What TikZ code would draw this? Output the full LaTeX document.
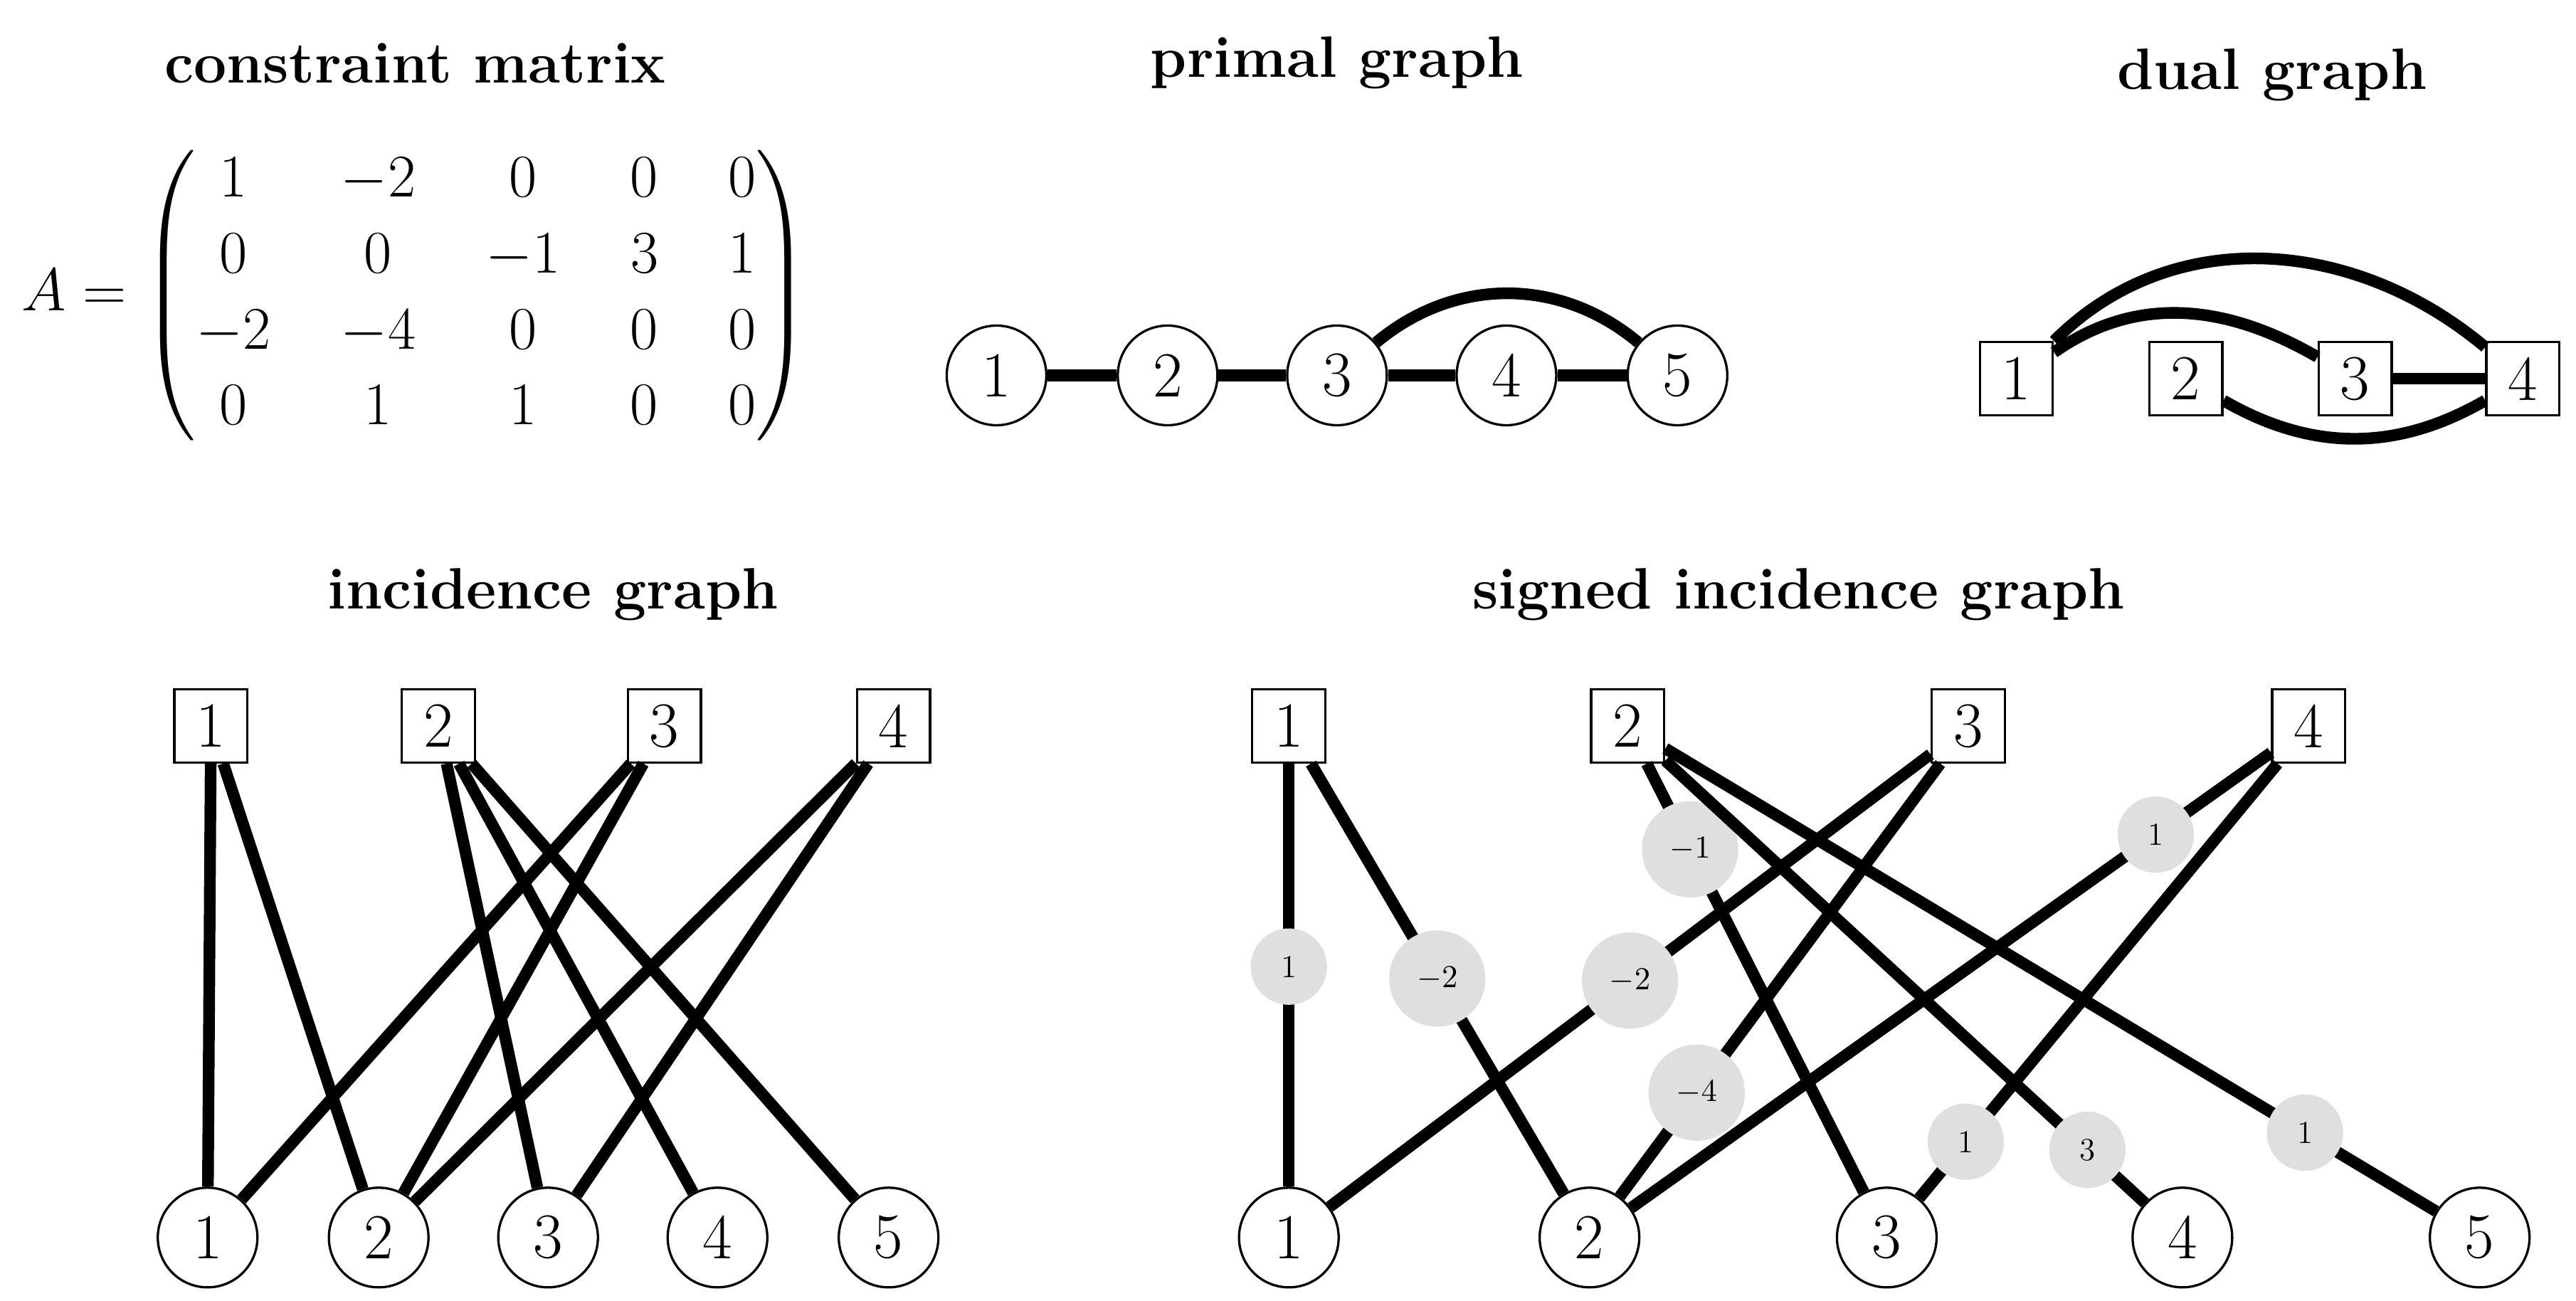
\documentclass[tikz,border=0pt]{standalone}
\usepackage{amsmath}
\usepackage{tikz}
\usetikzlibrary{arrows,positioning}

\begin{document}
\begin{tikzpicture}[x=0.02cm,y=-0.02cm,line width=4pt,
                    every node/.style={font=\fontsize{22}{26}\selectfont},
                    var/.style={circle,draw,line width=0.8pt,fill=white,minimum size=1.2cm,inner sep=0pt},
                    cons/.style={rectangle,draw,line width=0.8pt,fill=white,minimum size=0.88cm,inner sep=0pt},
                    title/.style={font=\fontsize{20}{24}\selectfont\bfseries},
                    wt/.style={circle,fill=gray!25,minimum size=0.92cm,inner sep=0pt,font=\fontsize{11}{13}\selectfont},
                    wtb/.style={wt,minimum size=1.16cm}]

  \useasboundingbox (0,0) rectangle (1551,783);

  % constraint matrix
  \node[title] (tA) at (250,38) {constraint matrix};
  \node (mat) at (250,178) {$A = {\arraycolsep=12pt\begin{pmatrix}
      1 & -2 & 0 & 0 & 0\\
      0 & 0 & -1 & 3 & 1\\
      -2 & -4 & 0 & 0 & 0\\
      0 & 1 & 1 & 0 & 0
    \end{pmatrix}}$};

  % primal graph
  \node[title] (tP) at (805,38) {primal graph};
  \foreach \i/\x in {1/600,2/703,3/805,4/907,5/1010}
    \node[var] (p\i) at (\x,226) {\i};
  \draw (p1) -- (p2);
  \draw (p2) -- (p3);
  \draw (p3) -- (p4);
  \draw (p4) -- (p5);
  \draw (p3) to[out=40,in=140] (p5);

  % dual graph
  \node[title] (tD) at (1368,45) {dual graph};
  \foreach \i/\x in {1/1214,2/1316,3/1418,4/1519}
    \node[cons] (d\i) at (\x,228) {\i};
  \draw (d3) -- (d4);
  \draw (d1) to[out=45,in=140] (d4);
  \draw (d1) to[out=35,in=150] (d3);
  \draw (d2) to[out=-30,in=-150] (d4);

  % incidence graph
  \node[title] (tI) at (333,358) {incidence graph};
  \foreach \i/\x in {1/127,2/264,3/400,4/538}
    \node[cons] (c\i) at (\x,437) {\i};
  \foreach \i/\x in {1/125,2/228,3/330,4/432,5/535}
    \node[var] (v\i) at (\x,745) {\i};
  \foreach \a/\b in {1/1,1/2,2/3,2/4,2/5,3/1,3/2,4/2,4/3}
    \draw (c\a) -- (v\b);

  % signed incidence graph
  \node[title] (tS) at (1083,358) {signed incidence graph};
  \foreach \i/\x in {1/776,2/980,3/1185,4/1390}
    \node[cons] (s\i) at (\x,437) {\i};
  \foreach \i/\x in {1/776,2/957,3/1136,4/1314,5/1493}
    \node[var] (u\i) at (\x,745) {\i};
  \draw (s1) -- (u1) node[wt,pos=0.48] {1};
  \draw (s1) -- (u2) node[wtb,pos=0.50] {$-2$};
  \draw (s2) -- (u3) node[wtb,pos=0.20] {$-1$};
  \draw (s3) -- (u1) node[wtb,pos=0.50] {$-2$};
  \draw (s3) -- (u2) node[wtb,pos=0.76] {$-4$};
  \draw (s2) -- (u4) node[wt,pos=0.88] {3};
  \draw (s2) -- (u5) node[wt,pos=0.83] {1};
  \draw (s4) -- (u2) node[wt,pos=0.18] {1};
  \draw (s4) -- (u3) node[wt,pos=0.87] {1};

\end{tikzpicture}
\end{document}
